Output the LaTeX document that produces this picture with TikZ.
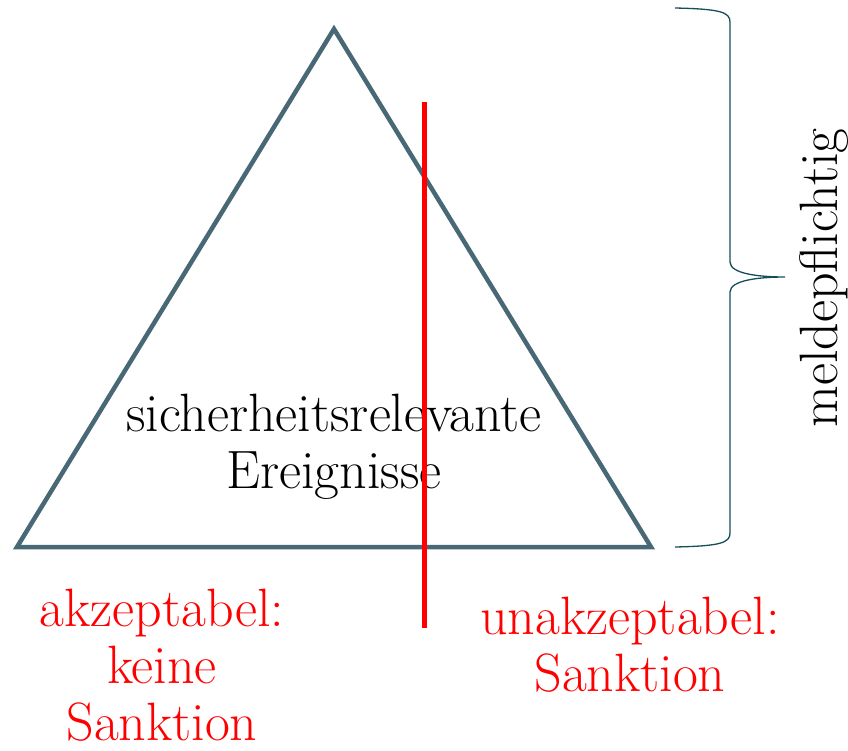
\documentclass[tikz,border=0pt]{standalone}
\usepackage{tikz}
\usetikzlibrary{positioning, calc}
\definecolor{triblue}{RGB}{72, 104, 117}
\definecolor{braceteal}{RGB}{22, 78, 88}
\definecolor{cutred}{RGB}{255, 0, 0}

\begin{document}
\begin{tikzpicture}[
    x=1pt, y=-1pt,
    bigtext/.style={font=\fontsize{54}{57}\selectfont, align=center, inner sep=0pt, text=#1},
    triline/.style={draw=triblue, line width=4.5pt, line join=miter},
    cutline/.style={draw=cutred, line width=5pt},
    braceline/.style={draw=braceteal, line width=1.3pt}
]
\useasboundingbox (0,0) rectangle (848,750);

% Triangle
\coordinate (apex) at (334,29);
\coordinate (bl) at (17,547);
\coordinate (br) at (651,547);
\draw[triline] (apex) -- (bl) -- (br) -- cycle;

\node[bigtext=black] (events) at (334,447) {sicherheitsrelevante\\Ereignisse};

% Red cut
\coordinate (cuttop) at (424,102);
\coordinate (cutbot) at (424,628);
\draw[cutline] (cuttop) -- (cutbot);

\node[bigtext=cutred] (okay) at (162,665) {akzeptabel:\\keine\\Sanktion};
\node[bigtext=cutred] (notokay) at (630,645) {unakzeptabel:\\Sanktion};

% Brace
\coordinate (btop) at (675,8);
\coordinate (bbot) at (675,547);
\coordinate (btip) at (785,277);
\draw[braceline] (btop) .. controls (720,9) and (730,12) .. (730,22)
    -- (730,262) .. controls (730,274) and (760,277) .. (btip)
    .. controls (760,277) and (730,280) .. (730,292)
    -- (730,533) .. controls (730,543) and (720,546) .. (bbot);

\node[bigtext=black, rotate=90] (report) at (824,278) {meldepflichtig};

\end{tikzpicture}
\end{document}
